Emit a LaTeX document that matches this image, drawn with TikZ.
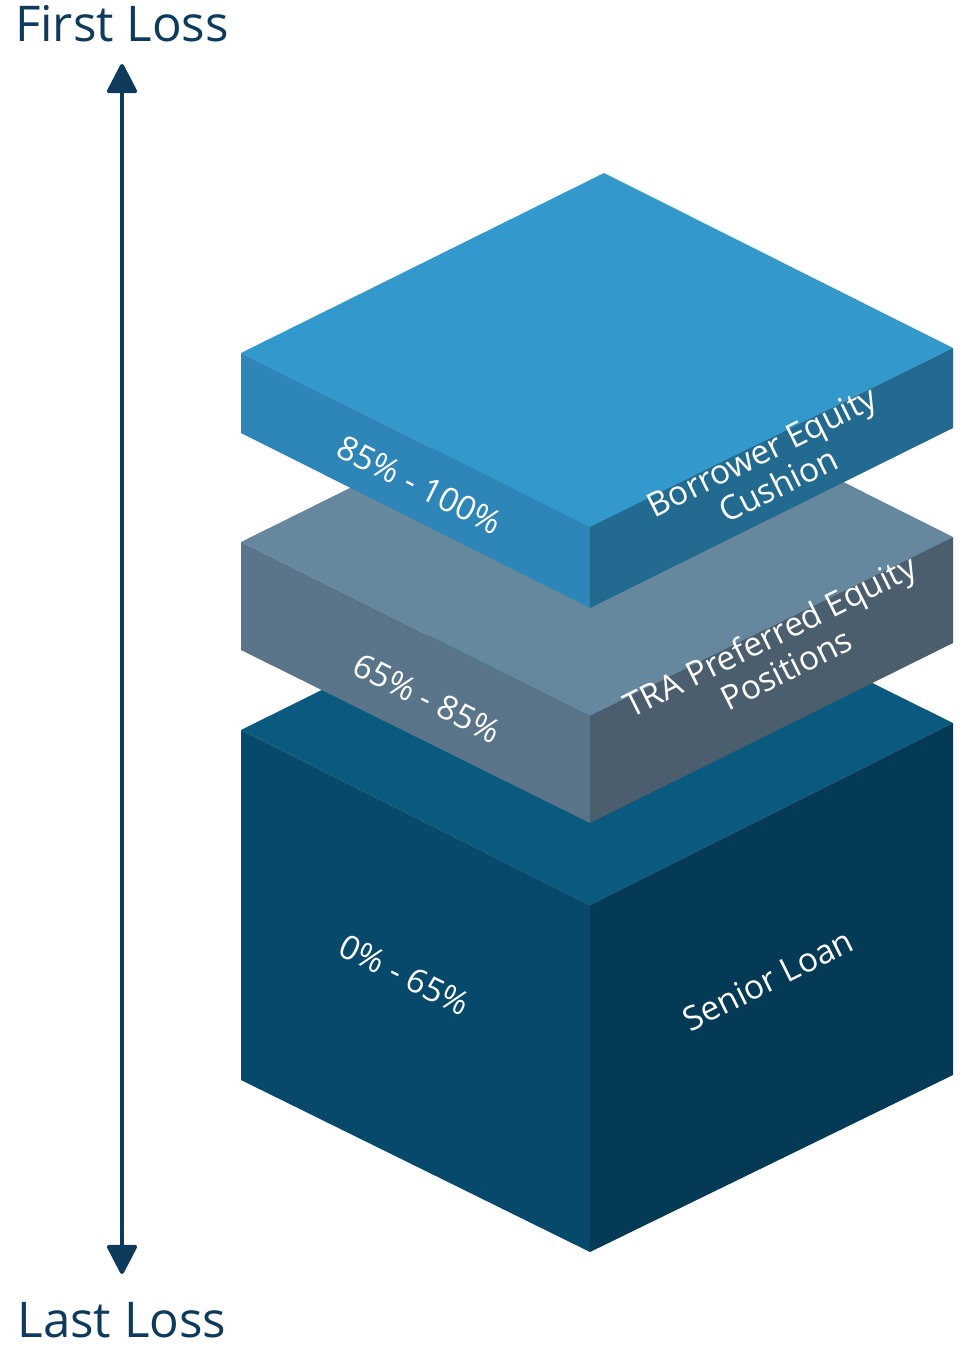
\documentclass[tikz,border=0pt]{standalone}
\usepackage{fontspec}
\setmainfont{Open Sans}
\usetikzlibrary{arrows.meta}
\definecolor{atop}{HTML}{3399CC}\definecolor{aleft}{HTML}{2E86B8}\definecolor{aright}{HTML}{236A91}
\definecolor{btop}{HTML}{66889E}\definecolor{bleft}{HTML}{5A7489}\definecolor{bright}{HTML}{4A5E6E}
\definecolor{ctop}{HTML}{0A5A80}\definecolor{cleft}{HTML}{07496B}\definecolor{cright}{HTML}{053A56}
\definecolor{arr}{HTML}{0E3A5C}
\begin{document}
\begin{tikzpicture}[x=0.01cm,y=-0.01cm,
 lbl/.style={text=white,font=\fontsize{9.5}{10.5}\selectfont,align=center,inner sep=0pt},
 big/.style={text=arr,font=\fontsize{14}{14}\selectfont}]
\useasboundingbox (0,0) rectangle (980,1348);
% bottom box
\fill[ctop] (241,730)--(604,550)--(953,723)--(590,905)--cycle;
\fill[cleft] (241,730)--(590,905)--(590,1252)--(241,1080)--cycle;
\fill[cright] (590,905)--(953,723)--(953,1075)--(590,1252)--cycle;
% middle slab
\fill[btop] (241,542)--(604,362)--(953,537)--(590,716)--cycle;
\fill[bleft] (241,542)--(590,716)--(590,823)--(241,650)--cycle;
\fill[bright] (590,716)--(953,537)--(953,643)--(590,823)--cycle;
% top slab
\fill[atop] (241,353)--(604,173)--(953,348)--(590,527)--cycle;
\fill[aleft] (241,353)--(590,527)--(590,608)--(241,433)--cycle;
\fill[aright] (590,527)--(953,348)--(953,428)--(590,608)--cycle;
% labels
\node[lbl,rotate=-26.5] (l1) at (420,485) {85\% - 100\%};
\node[lbl,rotate=26.5] (r1) at (770,468) {Borrower Equity\\Cushion};
\node[lbl,rotate=-26.5] (l2) at (427,698) {65\% - 85\%};
\node[lbl,rotate=26.5] (r2) at (778,652) {TRA Preferred Equity\\Positions};
\node[lbl,rotate=-26.5] (l3) at (405,975) {0\% - 65\%};
\node[lbl,rotate=26.5] (r3) at (768,980) {Senior Loan};
% arrow
\node[big] (fl) at (122,24) {First Loss};
\node[big] (ll) at (122,1320) {Last Loss};
\coordinate (a1) at (122,64);
\coordinate (a2) at (122,1274);
\draw[arr,line width=4pt*0.2845,{Triangle[round,length=9pt,width=9pt]}-{Triangle[round,length=9pt,width=9pt]}] (a1)--(a2);
\end{tikzpicture}
\end{document}
